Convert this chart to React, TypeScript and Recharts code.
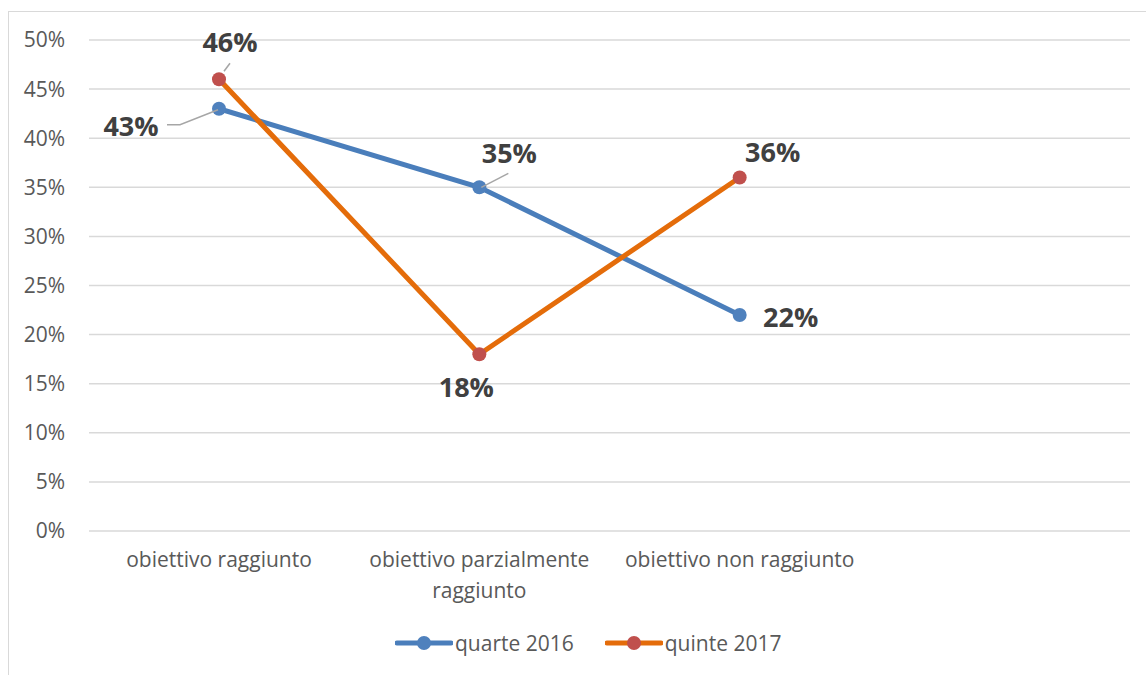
import React from 'react';
import { LineChart, Line, XAxis, YAxis, CartesianGrid, Legend, LabelList } from 'recharts';

// categories (4th slot is empty in the original workbook, keeps the plot width)
const CATEGORIES = ['obiettivo raggiunto', 'obiettivo parzialmente raggiunto', 'obiettivo non raggiunto', ''];
const QUARTE_2016 = [43, 35, 22, null];
const QUINTE_2017 = [46, 18, 36, null];
const Y_TICKS = [0, 5, 10, 15, 20, 25, 30, 35, 40, 45, 50];

const data = CATEGORIES.map((category, i) => ({
  category,
  quarte: QUARTE_2016[i],
  quinte: QUINTE_2017[i],
}));

const FONT = '"Open Sans", sans-serif';
const BLUE = '#4a7ebb';
const BLUE_DOT = '#4f81bd';
const ORANGE = '#e46c0a';
const RED_DOT = '#c0504d';

// label placement relative to each point (dx, dy) plus optional leader line
type LabelPos = { dx: number; dy: number; leader?: number[][] };
const QUARTE_LABELS: LabelPos[] = [
  { dx: -88, dy: 18, leader: [[-52, 16], [-39, 16], [-1, 1]] },
  { dx: 30, dy: -34, leader: [[2, 0], [29, -14]] },
  { dx: 51, dy: 2 },
];
const QUINTE_LABELS: LabelPos[] = [
  { dx: 11, dy: -37, leader: [[5, -8], [11, -16]] },
  { dx: -13, dy: 33 },
  { dx: 33, dy: -25 },
];

const makeLabel = (positions: LabelPos[]) => (props: any) => {
  const { x, y, value, index } = props;
  if (value == null || positions[index] == null) return null;
  const pos = positions[index];
  return (
    <g>
      {pos.leader && (
        <polyline
          points={pos.leader.map(([a, b]) => `${x + a},${y + b}`).join(' ')}
          fill="none"
          stroke="#a6a6a6"
          strokeWidth={1.5}
        />
      )}
      <text
        x={x + pos.dx}
        y={y + pos.dy}
        dy="0.36em"
        textAnchor="middle"
        fontFamily={FONT}
        fontWeight={700}
        fontSize={27}
        fill="#404040"
      >
        {`${value}%`}
      </text>
    </g>
  );
};

// word wrap like Excel does for long category names
let ctx: CanvasRenderingContext2D | null = null;
const wrapWords = (text: string, maxWidth: number, font: string) => {
  if (!ctx) ctx = document.createElement('canvas').getContext('2d');
  if (ctx) ctx.font = font;
  const measure = (s: string) => (ctx ? ctx.measureText(s).width : s.length * 10);
  const lines: string[] = [];
  let current = '';
  text.split(' ').forEach((word) => {
    const next = current ? `${current} ${word}` : word;
    if (current && measure(next) > maxWidth) {
      lines.push(current);
      current = word;
    } else {
      current = next;
    }
  });
  if (current) lines.push(current);
  return lines;
};

const CategoryTick = (props: any) => {
  const { x, y, payload } = props;
  if (!payload.value) return null;
  const lines = wrapWords(payload.value, 250, `21px "Open Sans"`);
  return (
    <text x={x} y={y + 28} textAnchor="middle" fontFamily={FONT} fontSize={21} fill="#595959">
      {lines.map((line, i) => (
        <tspan key={i} x={x} dy={i === 0 ? 0 : 31}>
          {line}
        </tspan>
      ))}
    </text>
  );
};

const LegendContent = (props: any) => {
  const { payload } = props;
  return (
    <div style={{ display: 'flex', height: 30, alignItems: 'center', paddingLeft: 395, fontFamily: FONT }}>
      {payload.map((item: any, i: number) => (
        <div key={item.value} style={{ display: 'flex', alignItems: 'center', marginRight: 31 }}>
          <svg width={58} height={16}>
            <line x1={2} y1={8} x2={56} y2={8} stroke={item.color} strokeWidth={5} strokeLinecap="round" />
            <circle cx={29} cy={8} r={7} fill={i === 0 ? BLUE_DOT : RED_DOT} />
          </svg>
          <span style={{ fontSize: 21, color: '#595959', marginLeft: 2 }}>{item.value}</span>
        </div>
      ))}
    </div>
  );
};

export default function App() {
  return (
    <div style={{ position: 'fixed', left: 0, top: 0, width: 1146, height: 675, background: '#fff', overflow: 'hidden' }}>
      <div
        style={{
          position: 'absolute',
          left: 8,
          top: 11,
          width: 1200,
          height: 700,
          border: '1.5px solid #d9d9d9',
        }}
      />
      <div style={{ position: 'absolute', left: 0, top: 0 }}>
        <LineChart width={1146} height={675} data={data} margin={{ top: 40, right: 16, left: 0, bottom: 54 }}>
          <CartesianGrid vertical={false} stroke="#d9d9d9" strokeWidth={1.5} />
          <XAxis
            dataKey="category"
            axisLine={false}
            tickLine={false}
            interval={0}
            height={60}
            padding={{ left: 130, right: 130 }}
            tick={<CategoryTick />}
          />
          <YAxis
            domain={[0, 50]}
            ticks={Y_TICKS}
            width={89}
            axisLine={false}
            tickLine={false}
            tickMargin={18}
            tickFormatter={(v: number) => `${v}%`}
            tick={{ fontFamily: FONT, fontSize: 21, fill: '#595959' }}
          />
          <Legend
            verticalAlign="bottom"
            content={<LegendContent />}
            wrapperStyle={{ top: 628, bottom: 'auto', left: 0, width: 1146 }}
          />
          <Line
            dataKey="quarte"
            name="quarte 2016"
            stroke={BLUE}
            strokeWidth={5}
            dot={{ r: 7, fill: BLUE_DOT, stroke: 'none' }}
            activeDot={false}
            isAnimationActive={false}
          >
            <LabelList dataKey="quarte" content={makeLabel(QUARTE_LABELS)} />
          </Line>
          <Line
            dataKey="quinte"
            name="quinte 2017"
            stroke={ORANGE}
            strokeWidth={5}
            dot={{ r: 7, fill: RED_DOT, stroke: 'none' }}
            activeDot={false}
            isAnimationActive={false}
          >
            <LabelList dataKey="quinte" content={makeLabel(QUINTE_LABELS)} />
          </Line>
        </LineChart>
      </div>
    </div>
  );
}
